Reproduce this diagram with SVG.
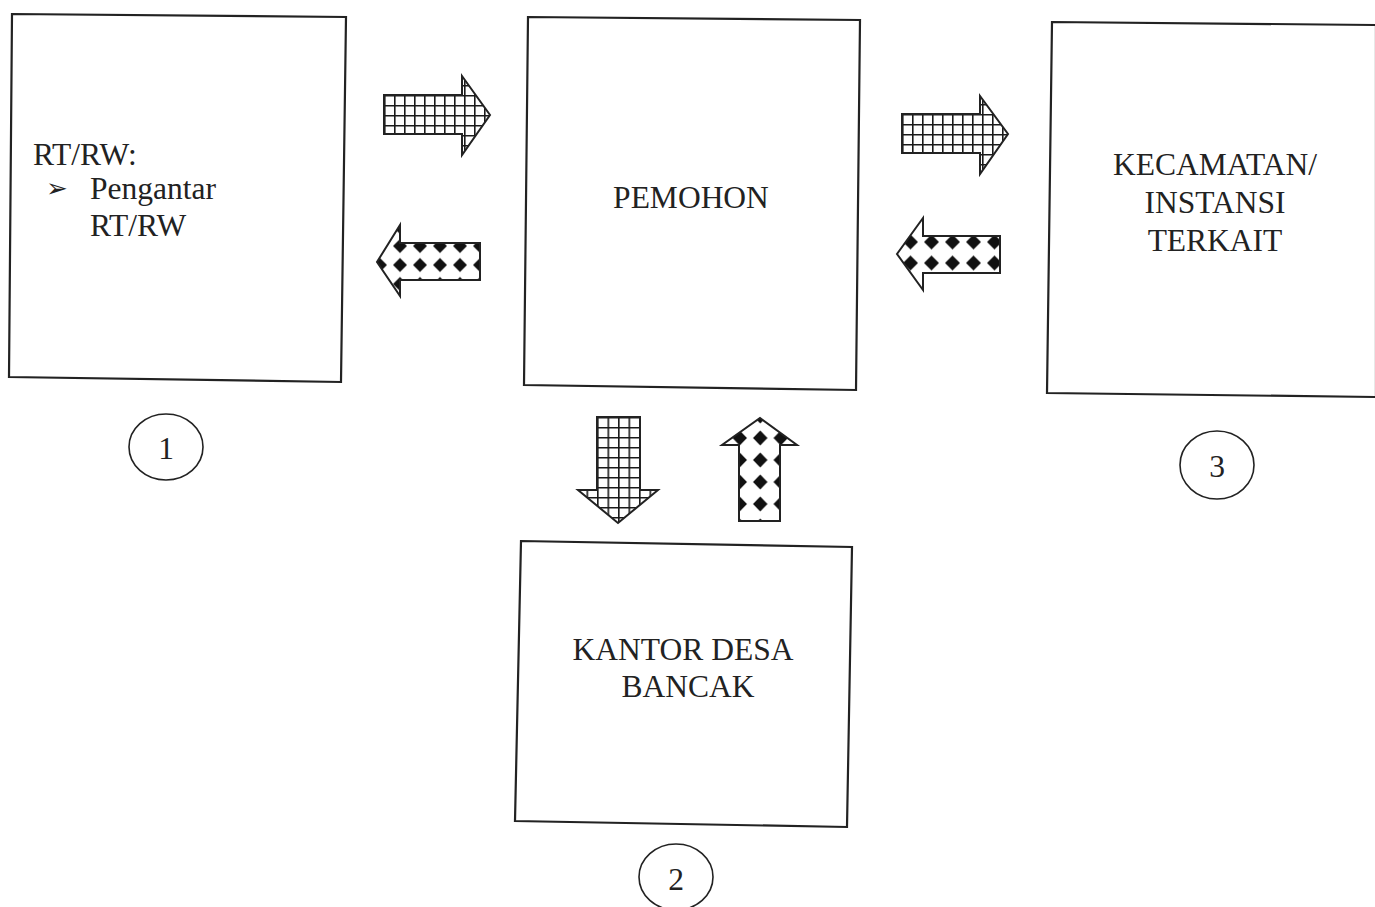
<svg xmlns="http://www.w3.org/2000/svg" width="1375" height="907" viewBox="0 0 1375 907">
<style>
.box{fill:#fff;stroke:#222;stroke-width:2.2}
.t{font-family:"Liberation Serif","Times New Roman",serif;font-size:31.5px;fill:#222}
.c{text-anchor:middle}
.circ{fill:none;stroke:#222;stroke-width:1.6}
.arr{stroke:#222;stroke-width:2;stroke-linejoin:miter}
.d{fill:#111}
.g{stroke:#1a1a1a;stroke-width:3.2;fill:none}
</style>
<defs>
<pattern id="grid" width="10" height="10" patternUnits="userSpaceOnUse" x="384" y="95">
<rect width="10" height="10" fill="#fff"/>
<path class="g" d="M0 0H10M0 0V10"/>
</pattern>
<pattern id="grid2" width="10" height="10" patternUnits="userSpaceOnUse" x="902" y="114">
<rect width="10" height="10" fill="#fff"/>
<path class="g" d="M0 0H10M0 0V10"/>
</pattern>
<pattern id="grid3" width="10.5" height="10" patternUnits="userSpaceOnUse" x="597" y="417">
<rect width="10.5" height="10" fill="#fff"/>
<path class="g" d="M0 0H10.5M0 0V10"/>
</pattern>
<pattern id="dia1" width="20" height="19" patternUnits="userSpaceOnUse" x="390" y="236.5">
<rect width="20" height="19" fill="#fff"/>
<path class="d" d="M10 2.5L17 9.5L10 16.5L3 9.5Z"/>
</pattern>
<pattern id="dia2" width="21" height="21" patternUnits="userSpaceOnUse" x="900" y="231.5">
<rect width="21" height="21" fill="#fff"/>
<path class="d" d="M10.5 3L18 10.5L10.5 18L3 10.5Z"/>
</pattern>
<pattern id="dia3" width="20.5" height="22" patternUnits="userSpaceOnUse" x="750" y="427">
<rect width="20.5" height="22" fill="#fff"/>
<path class="d" d="M10.25 3.5L17.5 11L10.25 18.5L3 11Z"/>
</pattern>
</defs>
<rect width="1375" height="907" fill="#fff"/>
<g id="node-rtrw">
<polygon class="box" points="12,14 346,17 341,382 9,377"/>
<text class="t" x="33" y="165">RT/RW:</text>
<text x="46" y="197" style="font-family:'DejaVu Sans',sans-serif;font-size:26px;fill:#222">➢</text>
<text class="t" x="90" y="199">Pengantar</text>
<text class="t" x="90" y="236">RT/RW</text>
</g>
<g id="node-pemohon">
<polygon class="box" points="528,17 860,20 856,390 524,385"/>
<text class="t c" x="691" y="208">PEMOHON</text>
</g>
<g id="node-kecamatan">
<polygon class="box" points="1052,22 1376,25 1376,397 1047,393"/>
<text class="t c" x="1215" y="175">KECAMATAN/</text>
<text class="t c" x="1215" y="213">INSTANSI</text>
<text class="t c" x="1215" y="251">TERKAIT</text>
</g>
<g id="node-kantor">
<polygon class="box" points="521,541 852,547 847,827 515,821"/>
<text class="t c" x="683" y="660">KANTOR DESA</text>
<text class="t c" x="688" y="697">BANCAK</text>
</g>
<g id="label-1"><ellipse class="circ" cx="166" cy="447" rx="37" ry="33"/><text class="t c" x="166" y="459">1</text></g>
<g id="label-2"><ellipse class="circ" cx="676" cy="877" rx="37" ry="33"/><text class="t c" x="676" y="890">2</text></g>
<g id="label-3"><ellipse class="circ" cx="1217" cy="465" rx="37" ry="34"/><text class="t c" x="1217" y="477">3</text></g>
<g id="connectors">
<polygon class="arr" fill="url(#grid)" points="384,95 462,95 462,76 490,115 462,155 462,134 384,134"/>
<polygon class="arr" fill="url(#dia1)" points="480,243 400,243 400,225 377,262 400,296 400,280 480,280"/>
<polygon class="arr" fill="url(#grid2)" points="902,114 980,114 980,96 1008,134 980,174 980,153 902,153"/>
<polygon class="arr" fill="url(#dia2)" points="1000,236 923,236 923,218 897,254 923,290 923,273 1000,273"/>
<polygon class="arr" fill="url(#grid3)" points="597,417 640,417 640,490 658,490 618,523 578,490 597,490"/>
<polygon class="arr" fill="url(#dia3)" points="739,521 780,521 780,445 797,445 760,418 722,445 739,445"/>
</g>
</svg>
